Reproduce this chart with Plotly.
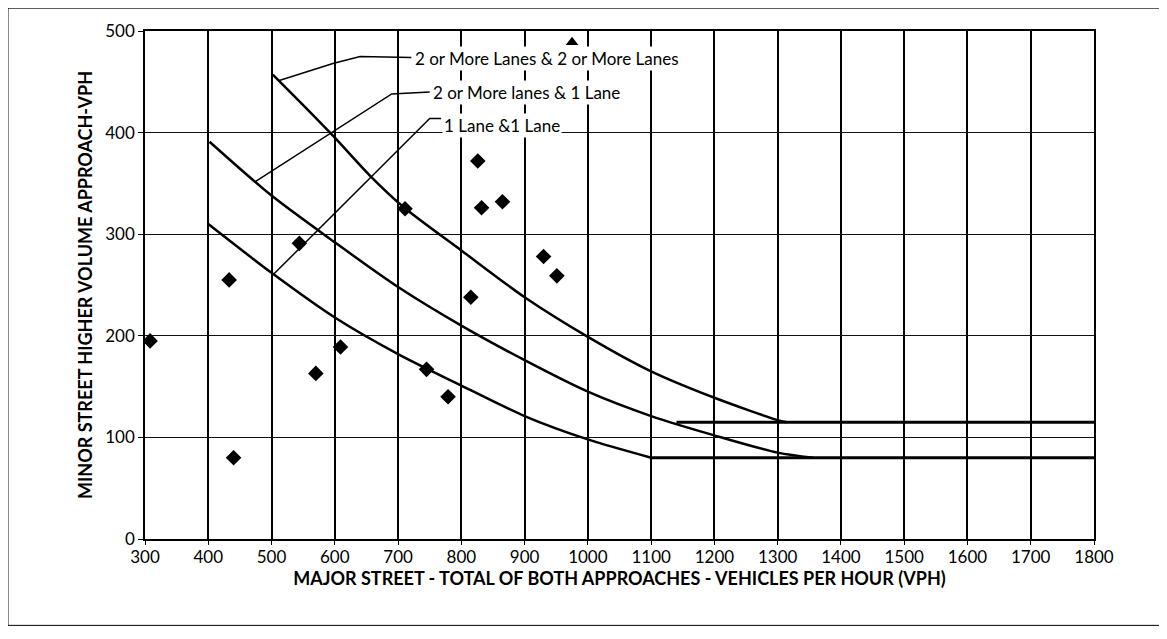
import plotly.graph_objects as go

# ---- data ----
obs_x = [308, 433, 440, 544, 570, 609, 711, 745, 779, 815, 826, 832, 865, 930, 951]
obs_y = [195, 255, 80, 291, 163, 189, 325, 167, 140, 238, 372, 326, 332, 278, 259]

tri_x = [975]
tri_y = [489]

c22_x = [502, 550, 600, 655, 710, 800, 900, 1000, 1100, 1200, 1300, 1314]
c22_y = [457, 427, 395, 358, 326, 284, 238, 199, 165, 139, 117, 115]

c21_x = [402, 500, 600, 700, 800, 900, 1000, 1100, 1200, 1300, 1356]
c21_y = [391, 338, 292, 248, 210, 176, 145, 121, 102, 85, 80]

c11_x = [400, 500, 600, 700, 800, 900, 1000, 1100]
c11_y = [310, 262, 218, 182, 151, 121, 98, 80]

thr_hi_x = [1140, 1800]
thr_hi_y = [115, 115]
thr_lo_x = [1100, 1800]
thr_lo_y = [80, 80]

lead1_x = [511, 597, 640, 721]
lead1_y = [451, 468, 475, 474]
lead2_x = [475, 690, 750]
lead2_y = [352, 438, 440]
lead3_x = [504, 750, 768]
lead3_y = [261, 414, 414]

labels = ["2 or More Lanes & 2 or More Lanes", "2 or More lanes & 1 Lane", "1 Lane &1 Lane"]
label_x = [724, 752, 770]
label_y = [473, 439, 407]

x_ticks = list(range(300, 1900, 100))
y_ticks = list(range(0, 600, 100))

FONT = "Lato, 'Open Sans', sans-serif"

fig = go.Figure()

for xs, ys in [(c22_x, c22_y), (c21_x, c21_y), (c11_x, c11_y)]:
    fig.add_trace(go.Scatter(x=xs, y=ys, mode="lines",
                             line=dict(color="black", width=2.5, shape="spline", smoothing=0.8),
                             hoverinfo="skip"))
for xs, ys in [(thr_hi_x, thr_hi_y), (thr_lo_x, thr_lo_y)]:
    fig.add_trace(go.Scatter(x=xs, y=ys, mode="lines",
                             line=dict(color="black", width=3), hoverinfo="skip"))
for xs, ys in [(lead1_x, lead1_y), (lead2_x, lead2_y), (lead3_x, lead3_y)]:
    fig.add_trace(go.Scatter(x=xs, y=ys, mode="lines",
                             line=dict(color="black", width=1.5), hoverinfo="skip"))

fig.add_trace(go.Scatter(x=obs_x, y=obs_y, mode="markers",
                         marker=dict(symbol="diamond", size=12, color="black")))
fig.add_trace(go.Scatter(x=tri_x, y=tri_y, mode="markers", cliponaxis=False,
                         marker=dict(symbol="triangle-up", size=11, color="black")))

for t, x, y in zip(labels, label_x, label_y):
    fig.add_annotation(x=x, y=y, text=t, showarrow=False, xanchor="left", yanchor="middle",
                       bgcolor="white", borderpad=1,
                       font=dict(family=FONT, size=17, color="black"))

# outer chart border
fig.add_shape(type="rect", xref="paper", yref="paper",
              x0=-0.1444, x1=1.0717, y0=-0.170, y1=1.045,
              line=dict(color="black", width=1), layer="below")

fig.update_layout(
    width=1167, height=639,
    margin=dict(l=137, r=81, t=19, b=108),
    paper_bgcolor="white", plot_bgcolor="white",
    showlegend=False,
    font=dict(family=FONT, size=17, color="black"),
    xaxis=dict(range=[300, 1800], tickvals=x_ticks, ticktext=[str(v) for v in x_ticks],
               showgrid=True, gridcolor="black", gridwidth=1.5,
               showline=True, linecolor="black", linewidth=1.5, mirror=True,
               ticks="outside", ticklen=4, tickcolor="black", zeroline=False,
               ticklabelstandoff=-2,
               tickfont=dict(size=17),
               title=dict(text="<b>MAJOR STREET - TOTAL OF BOTH APPROACHES - VEHICLES PER HOUR (VPH)</b>",
                          font=dict(size=18), standoff=4)),
    yaxis=dict(range=[0, 500], tickvals=y_ticks, ticktext=[str(v) for v in y_ticks],
               showgrid=True, gridcolor="#111", gridwidth=1,
               showline=True, linecolor="black", linewidth=1.5, mirror=True,
               ticks="outside", ticklen=5, tickcolor="black", zeroline=False,
               tickfont=dict(size=17),
               title=dict(text="<b>MINOR STREET HIGHER VOLUME APPROACH-VPH</b>",
                          font=dict(size=18), standoff=8)),
)

fig.write_html("out.html")
